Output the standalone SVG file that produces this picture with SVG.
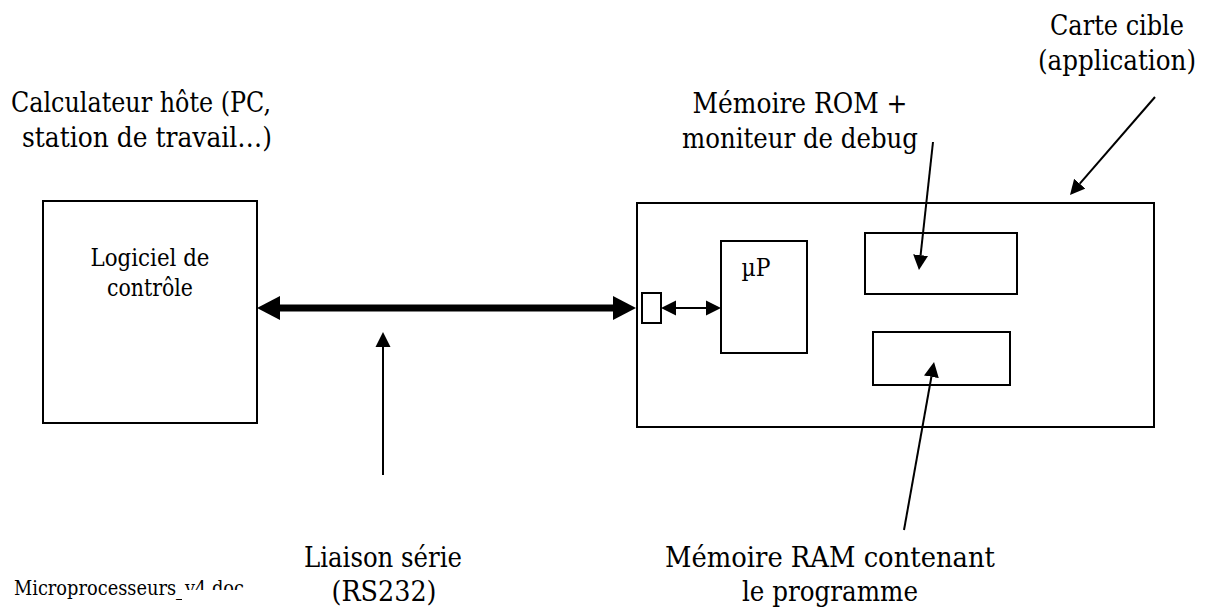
<svg xmlns="http://www.w3.org/2000/svg" width="1209" height="609" viewBox="0 0 1209 609">
  <style>
    .box { fill: #fff; stroke: #000; stroke-width: 2; }
    text { font-family: "DejaVu Serif", serif; fill: #000; }
    .lbl { text-anchor: middle; }
    .big { font-size: 28px; }
    .small { font-size: 23.5px; }
    .foot { font-size: 20px; }
    .thin { stroke: #000; stroke-width: 2; fill: none; }
    .thick { stroke: #000; stroke-width: 7; fill: none; }
  </style>
  <defs>
    <!-- refX=0: the line stops at the base of the head -->
    <marker id="head" markerUnits="userSpaceOnUse" markerWidth="16" markerHeight="16" viewBox="0 -8 16 16" refX="0" refY="0" orient="auto-start-reverse">
      <path d="M0,-7.5 L15,0 L0,7.5 z" fill="#000"/>
    </marker>
    <marker id="headBig" markerUnits="userSpaceOnUse" markerWidth="24" markerHeight="26" viewBox="0 -13 24 26" refX="0" refY="0" orient="auto-start-reverse">
      <path d="M0,-12 L23,0 L0,12 z" fill="#000"/>
    </marker>
  </defs>

  <rect width="1209" height="609" fill="#fff"/>

  <!-- host computer -->
  <g id="host">
    <text class="lbl big" x="141" y="112" textLength="260" lengthAdjust="spacingAndGlyphs">Calculateur hôte (PC,</text>
    <text class="lbl big" x="147" y="147" textLength="250" lengthAdjust="spacingAndGlyphs">station de travail…)</text>
    <rect class="box" x="43" y="201" width="214" height="222"/>
    <text class="lbl small" x="150" y="266" textLength="119" lengthAdjust="spacingAndGlyphs">Logiciel de</text>
    <text class="lbl small" x="150" y="296" textLength="86" lengthAdjust="spacingAndGlyphs">contrôle</text>
  </g>

  <!-- target board -->
  <g id="target">
    <rect class="box" x="637" y="203" width="517" height="224"/>
    <text class="lbl big" x="1117" y="35" textLength="134" lengthAdjust="spacingAndGlyphs">Carte cible</text>
    <text class="lbl big" x="1117" y="70" textLength="158" lengthAdjust="spacingAndGlyphs">(application)</text>
  </g>

  <g id="port">
    <rect class="box" x="642" y="293" width="19" height="30"/>
  </g>

  <g id="cpu">
    <rect class="box" x="721" y="241" width="86" height="112"/>
    <text class="lbl small" x="756" y="276" textLength="29" lengthAdjust="spacingAndGlyphs">µP</text>
  </g>

  <g id="rom">
    <rect class="box" x="865" y="233" width="152" height="61"/>
    <text class="lbl big" x="800" y="113" textLength="215" lengthAdjust="spacingAndGlyphs">Mémoire ROM +</text>
    <text class="lbl big" x="800" y="148" textLength="236" lengthAdjust="spacingAndGlyphs">moniteur de debug</text>
  </g>

  <g id="ram">
    <rect class="box" x="873" y="332" width="137" height="53"/>
    <text class="lbl big" x="830" y="567" textLength="330" lengthAdjust="spacingAndGlyphs">Mémoire RAM contenant</text>
    <text class="lbl big" x="830" y="601" textLength="176" lengthAdjust="spacingAndGlyphs">le programme</text>
  </g>

  <g id="serial-label">
    <text class="lbl big" x="383" y="567" textLength="158" lengthAdjust="spacingAndGlyphs">Liaison série</text>
    <text class="lbl big" x="384" y="601" textLength="105" lengthAdjust="spacingAndGlyphs">(RS232)</text>
  </g>

  <!-- connectors -->
  <g id="connectors">
    <line class="thick" x1="280" y1="308" x2="613" y2="308" marker-start="url(#headBig)" marker-end="url(#headBig)"/>
    <line class="thin" x1="676" y1="308" x2="706" y2="308" marker-start="url(#head)" marker-end="url(#head)"/>
    <line class="thin" x1="383" y1="475" x2="383" y2="347" marker-end="url(#head)"/>
    <line class="thin" x1="933" y1="142" x2="920.6" y2="255.1" marker-end="url(#head)"/>
    <line class="thin" x1="904" y1="530" x2="931.4" y2="376.8" marker-end="url(#head)"/>
    <line class="thin" x1="1155" y1="97" x2="1079.8" y2="183.7" marker-end="url(#head)"/>
  </g>

  <!-- page footer, lower half masked -->
  <g id="footer">
    <text class="foot" x="14" y="595" textLength="230" lengthAdjust="spacingAndGlyphs">Microprocesseurs_v4.doc</text>
    <rect x="182" y="590" width="80" height="19" fill="#fff"/>
  </g>
</svg>
